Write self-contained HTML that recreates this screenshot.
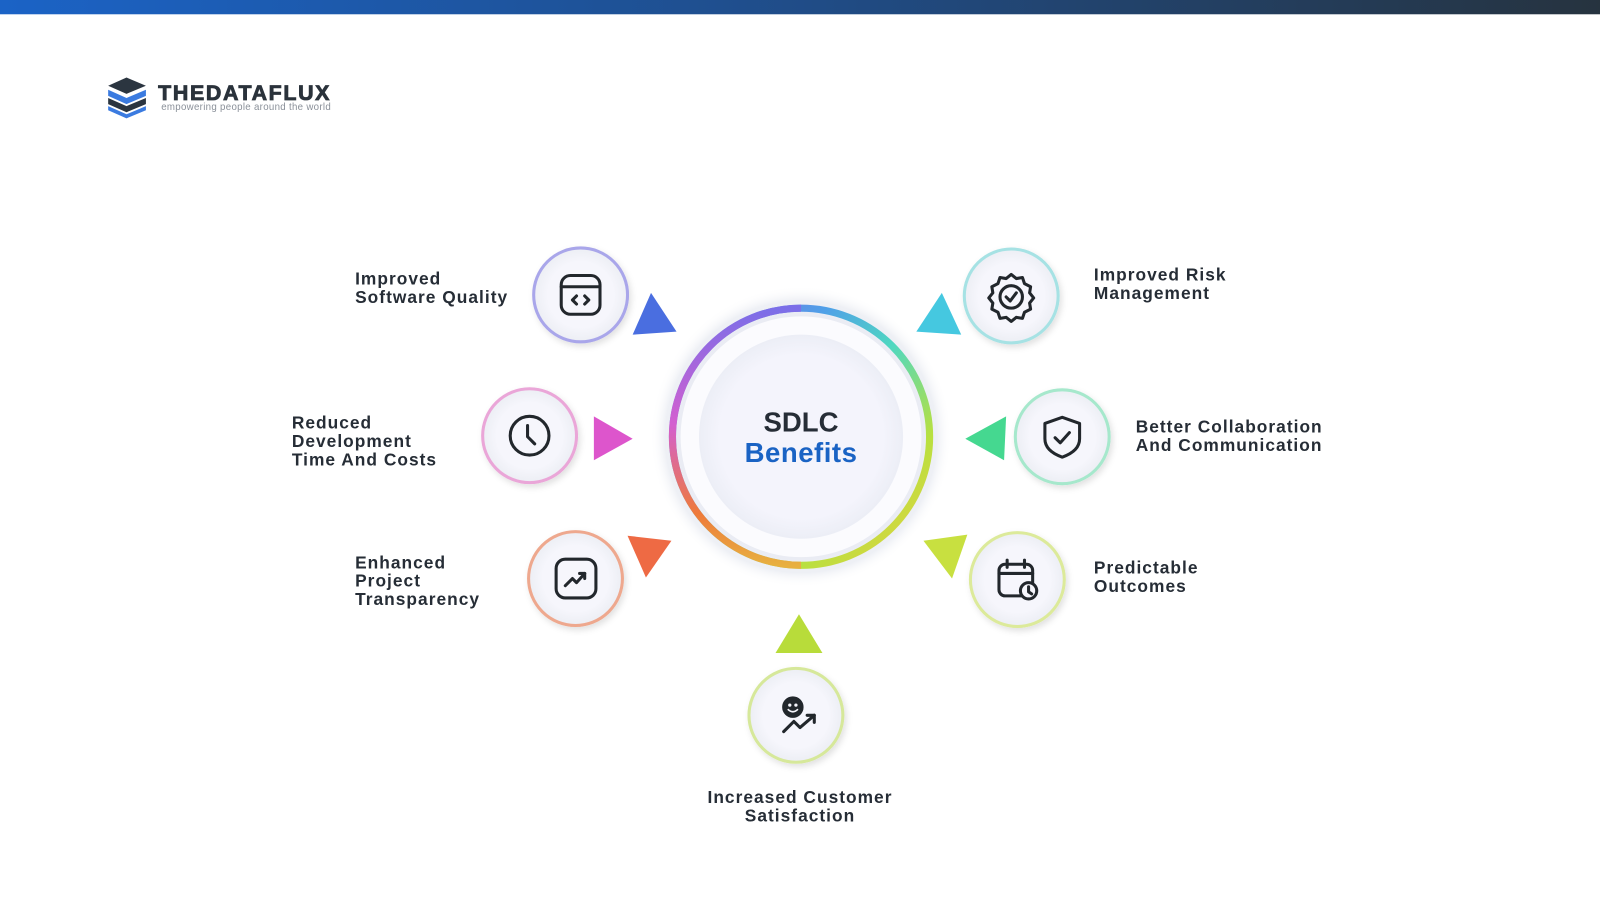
<!DOCTYPE html>
<html><head><meta charset="utf-8"><style>
html,body{margin:0;padding:0;background:#fff;width:1600px;height:901px;overflow:hidden}
text{font-family:"Liberation Sans",Arial,sans-serif}
</style></head><body>
<svg width="1600" height="901" viewBox="0 0 1568 883" preserveAspectRatio="none" xmlns="http://www.w3.org/2000/svg">
<defs>
<linearGradient id="bar" x1="0" x2="1"><stop offset="0" stop-color="#1b63c6"/><stop offset="0.45" stop-color="#1f4f8f"/><stop offset="1" stop-color="#26333f"/></linearGradient>
<radialGradient id="halo" cx="0.5" cy="0.5" r="0.5"><stop offset="0.78" stop-color="#e9ebf3"/><stop offset="0.9" stop-color="#eef0f5"/><stop offset="1" stop-color="#fff" stop-opacity="0"/></radialGradient>
<linearGradient id="ringg" x1="0" y1="0" x2="1" y2="1">
<stop offset="0" stop-color="#8a5be0"/><stop offset="0.3" stop-color="#4fa0e8"/><stop offset="0.5" stop-color="#4fd8c0"/><stop offset="0.75" stop-color="#b8e040"/><stop offset="1" stop-color="#e8d040"/></linearGradient>
<linearGradient id="ringL" x1="0" y1="0" x2="0" y2="1"><stop offset="0" stop-color="#7b6ee8"/><stop offset="0.45" stop-color="#d35fd0"/><stop offset="0.8" stop-color="#ee7a3a"/><stop offset="1" stop-color="#e8b040"/></linearGradient>
<radialGradient id="inner" cx="0.5" cy="0.5" r="0.5"><stop offset="0.8" stop-color="#f4f4fc"/><stop offset="1" stop-color="#eceef6"/></radialGradient>
<radialGradient id="small" cx="0.5" cy="0.5" r="0.5"><stop offset="0.7" stop-color="#f6f6fc"/><stop offset="1" stop-color="#eceef4"/></radialGradient>
<filter id="sh" x="-30%" y="-30%" width="160%" height="160%"><feDropShadow dx="2" dy="3" stdDeviation="3" flood-color="#000" flood-opacity="0.12"/></filter>
</defs>
<rect x="0" y="0" width="1568" height="14" fill="url(#bar)"/>

<g>
<polygon points="106,84 124,76 143,84 124,92" fill="#2b3540"/>
<polygon points="106,88 124,96 143,88 143,94 124,102 106,94" fill="#3b7be0"/>
<polygon points="106,96 124,104 143,96 143,102 124,110 106,102" fill="#2b3540"/>
<polygon points="106,104 124,112 143,104 143,108 124,116 106,108" fill="#3b7be0"/>
<text x="155" y="98" font-size="21" font-weight="900" fill="#2a323b" letter-spacing="1.6" stroke="#2a323b" stroke-width="0.8">THEDATAFLUX</text>
<text x="158" y="108" font-size="9.5" fill="#8a9099" letter-spacing="0.3">empowering people around the world</text>
</g>

<circle cx="785" cy="428" r="148" fill="url(#halo)"/>
<circle cx="785" cy="428" r="126" fill="none" stroke="url(#ringg)" stroke-width="7"/>
<path d="M785 302 A126 126 0 0 0 785 554" fill="none" stroke="url(#ringL)" stroke-width="7"/>
<circle cx="785" cy="428" r="118" fill="#fbfbfe"/>
<circle cx="785" cy="428" r="100" fill="url(#inner)"/>
<text x="785" y="423" text-anchor="middle" font-size="27" font-weight="700" fill="#262d36">SDLC</text>
<text x="785" y="453" text-anchor="middle" font-size="27" font-weight="700" fill="#1a63c4" letter-spacing="0.5">Benefits</text>

<polygon points="638,287 663,325 620,328" fill="#4a6ee0"/>
<polygon points="582,408 620,430 582,451" fill="#dd55cc"/>
<polygon points="615,525 658,530 633,566" fill="#ee6a44"/>
<polygon points="783,602 806,640 760,640" fill="#b8dc3a"/>
<polygon points="905,530 948,524 933,567" fill="#c8e040"/>
<polygon points="986,408 984,451 946,430" fill="#45d890"/>
<polygon points="923,287 942,328 898,325" fill="#45c8e0"/>

<g filter="url(#sh)">
<circle cx="569" cy="289" r="46" fill="url(#small)" stroke="#a9a6ea" stroke-width="3"/>
<circle cx="519" cy="427" r="46" fill="url(#small)" stroke="#eaa6d8" stroke-width="3"/>
<circle cx="564" cy="567" r="46" fill="url(#small)" stroke="#eea88e" stroke-width="3"/>
<circle cx="780" cy="701" r="46" fill="url(#small)" stroke="#d6e89a" stroke-width="3"/>
<circle cx="997" cy="568" r="46" fill="url(#small)" stroke="#dcea9a" stroke-width="3"/>
<circle cx="1041" cy="428" r="46" fill="url(#small)" stroke="#a6e8cc" stroke-width="3"/>
<circle cx="991" cy="290" r="46" fill="url(#small)" stroke="#a6e2e4" stroke-width="3"/>
</g>

<g fill="none" stroke="#22272c" stroke-width="3" stroke-linecap="round" stroke-linejoin="round">
<rect x="550" y="270" width="38" height="38" rx="9"/><line x1="550" y1="281" x2="588" y2="281"/>
<polyline points="565,290 561,294 565,298"/><polyline points="573,290 577,294 573,298"/>
<circle cx="519" cy="427" r="19"/><polyline points="517,417 517,428 524,435"/>
<rect x="545" y="548" width="39" height="38" rx="9"/><polyline points="554,574 561,567 565,571 573,562"/><polyline points="568,562 573,562 573,567"/>
<circle cx="777" cy="693" r="9" fill="#22272c"/><polyline points="768,717 778,707 784,713 798,701"/><polyline points="791,701 798,701 798,708"/>
<rect x="979" y="553" width="33" height="31" rx="6"/><line x1="979" y1="562" x2="1012" y2="562"/><line x1="987" y1="549" x2="987" y2="556"/><line x1="1004" y1="549" x2="1004" y2="556"/>
<circle cx="1008" cy="579" r="8" fill="#f6f6fc"/><polyline points="1008,575 1008,580 1011,582"/>
<path d="M1041 409 L1058 415 L1058 430 Q1058 442 1041 448 Q1024 442 1024 430 L1024 415 Z"/><polyline points="1034,429 1039,434 1048,424"/>
<path d="M991 269 l5 4 6 -1 2 6 6 3 -1 6 4 5 -4 5 1 6 -6 3 -2 6 -6 -1 -5 4 -5 -4 -6 1 -2 -6 -6 -3 1 -6 -4 -5 4 -5 -1 -6 6 -3 2 -6 6 1 z"/>
<circle cx="991" cy="291" r="11"/><polyline points="986,291 990,295 996,287"/>
</g>
<g fill="#f6f6fc"><circle cx="774" cy="691" r="1.6"/><circle cx="780" cy="691" r="1.6"/></g>
<path d="M772 695 Q777 700 782 695" stroke="#f6f6fc" stroke-width="1.6" fill="none"/>

<g font-size="17" font-weight="700" fill="#262d36" letter-spacing="1">
<text x="348" y="279">Improved</text><text x="348" y="297">Software Quality</text>
<text x="286" y="420">Reduced</text><text x="286" y="438">Development</text><text x="286" y="456">Time And Costs</text>
<text x="348" y="557">Enhanced</text><text x="348" y="575">Project</text><text x="348" y="593">Transparency</text>
<text x="784" y="787" text-anchor="middle">Increased Customer</text><text x="784" y="805" text-anchor="middle">Satisfaction</text>
<text x="1072" y="275">Improved Risk</text><text x="1072" y="293">Management</text>
<text x="1113" y="424">Better Collaboration</text><text x="1113" y="442">And Communication</text>
<text x="1072" y="562">Predictable</text><text x="1072" y="580">Outcomes</text>
</g>
</svg>
</body></html>
